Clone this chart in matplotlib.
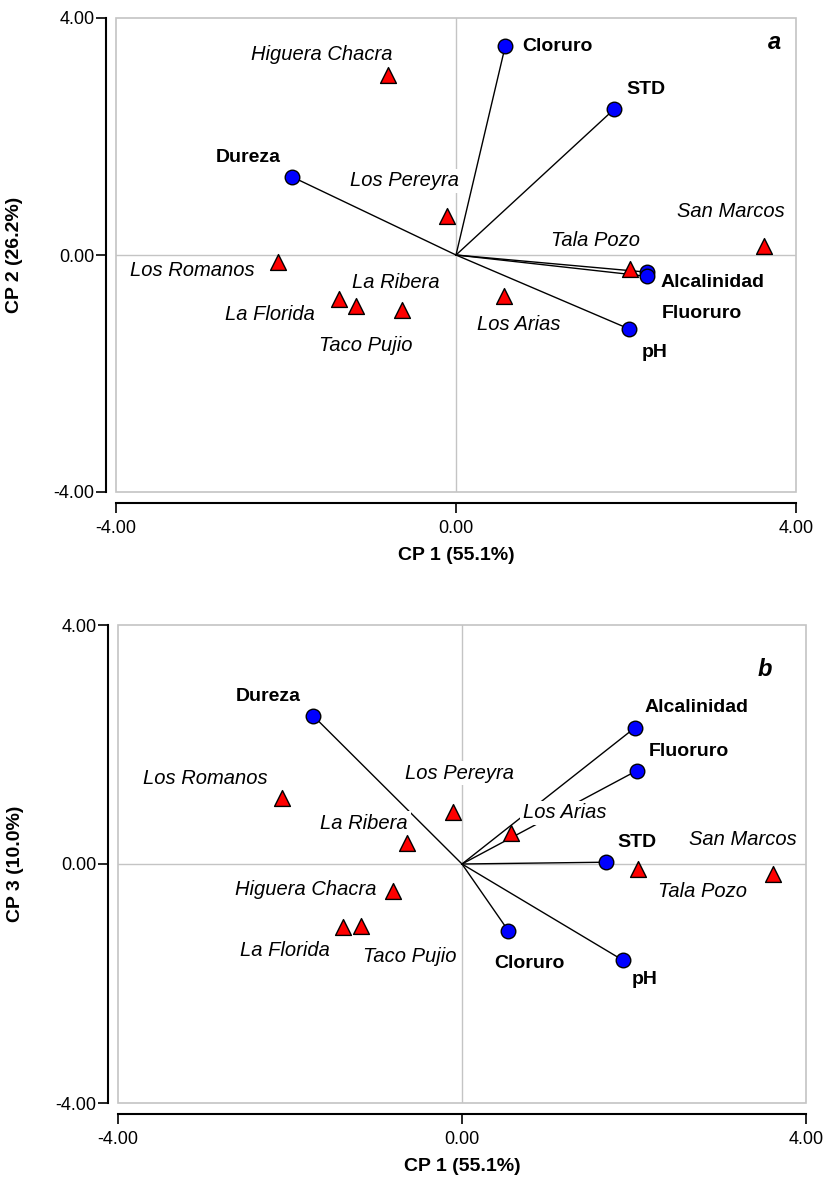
import numpy as np
import matplotlib
matplotlib.use('Agg')
import matplotlib.pyplot as plt
from matplotlib.patches import Rectangle

plt.rcParams['font.family'] = ['Liberation Sans', 'DejaVu Sans']

##### sitios (scores)
sites = ['Higuera Chacra', 'Los Pereyra', 'Los Romanos', 'La Florida', 'Taco Pujio',
         'La Ribera', 'Los Arias', 'Tala Pozo', 'San Marcos']
site_cp1 = np.array([-0.80, -0.11, -2.09, -1.38, -1.18, -0.64, 0.57, 2.05, 3.62])
site_cp2 = np.array([3.04, 0.66, -0.12, -0.74, -0.86, -0.93, -0.69, -0.24, 0.15])
site_cp3 = np.array([-0.45, 0.87, 1.10, -1.05, -1.04, 0.35, 0.52, -0.08, -0.17])

##### variables (loadings)
variables = ['Cloruro', 'STD', 'Dureza', 'Alcalinidad', 'Fluoruro', 'pH']
var_a_cp1 = np.array([0.58, 1.86, -1.93, 2.25, 2.25, 2.04])
var_a_cp2 = np.array([3.53, 2.46, 1.32, -0.29, -0.36, -1.25])
var_b_cp1 = np.array([0.54, 1.67, -1.73, 2.01, 2.03, 1.87])
var_b_cp3 = np.array([-1.12, 0.03, 2.48, 2.28, 1.56, -1.61])

#### label offsets (pixels)
site_off_a = [(-66, 20), (-42, 35), (-86, -8), (-69, -16), (10, -40), (-6, 28), (14, -29), (-35, 29), (-33, 35)]
var_off_a = [(52, -1), (32, 20), (-44, 19), (65, -10), (55, -37), (25, -23)]
site_off_b = [(-87, 1), (7, 39), (-77, 20), (-58, -24), (49, -30), (-43, 20), (54, 20), (64, -23), (-30, 35)]
var_off_b = [(21, -33), (31, 20), (-45, 19), (62, 20), (52, 19), (22, -19)]


def panel(ax, sx, sy, vx, vy, soff, voff, ylab, letter, letter_pos):
	ax.set_xlim(-4, 4)
	ax.set_ylim(-4, 4)
	ax.axhline(0, color='#c4c4c4', lw=1, zorder=1)
	ax.axvline(0, color='#c4c4c4', lw=1, zorder=1)
	ax.add_patch(Rectangle((0, 0), 1, 1, transform=ax.transAxes, fill=False,
	                       ec='#c4c4c4', lw=1.2, zorder=1, clip_on=False))
	for i in range(len(vx)):
		ax.plot([0, vx[i]], [0, vy[i]], color='black', lw=1, zorder=2)
	for i in range(len(sx)):
		ax.annotate(sites[i], (sx[i], sy[i]), xytext=soff[i], textcoords='offset pixels',
		            ha='center', va='center', fontsize=14.5, style='italic', zorder=3,
		            bbox=dict(facecolor='white', edgecolor='none', pad=2))
	for i in range(len(vx)):
		ax.annotate(variables[i], (vx[i], vy[i]), xytext=voff[i], textcoords='offset pixels',
		            ha='center', va='center', fontsize=14, fontweight='bold', zorder=3)
	ax.scatter(sx, sy, marker='^', s=130, c='#ff0000', edgecolors='black', linewidths=1, zorder=4)
	ax.scatter(vx, vy, marker='o', s=110, c='#0000ff', edgecolors='black', linewidths=1, zorder=4)

	for s in ['top', 'right']:
		ax.spines[s].set_visible(False)
	ax.spines['left'].set_position(('outward', 7.5))
	ax.spines['bottom'].set_position(('outward', 8))
	ax.spines['left'].set_linewidth(1.5)
	ax.spines['bottom'].set_linewidth(1.5)
	ax.set_xticks([-4, 0, 4])
	ax.set_yticks([-4, 0, 4])
	ax.set_xticklabels(['%.2f' % t for t in [-4, 0, 4]])
	ax.set_yticklabels(['%.2f' % t for t in [-4, 0, 4]])
	ax.tick_params(axis='both', direction='out', length=7, width=1.2, labelsize=13)
	ax.tick_params(axis='y', pad=1)
	ax.tick_params(axis='x', pad=5)
	ax.set_xlabel('CP 1 (55.1%)', fontsize=14, fontweight='bold')
	ax.set_ylabel(ylab, fontsize=14, fontweight='bold')
	ax.xaxis.set_label_coords(0.5, -0.115)
	ax.yaxis.set_label_coords(-0.137, 0.5)
	ax.text(letter_pos[0], letter_pos[1], letter, transform=ax.transAxes, ha='center', va='center',
	        fontsize=17, fontweight='bold', style='italic')


fig = plt.figure(figsize=(8.29, 11.78), dpi=100)
ax1 = fig.add_axes([116/829, 1-492/1178, 680/829, 474/1178])
ax2 = fig.add_axes([118/829, 1-1103/1178, 688/829, 478/1178])

panel(ax1, site_cp1, site_cp2, var_a_cp1, var_a_cp2, site_off_a, var_off_a,
      'CP 2 (26.2%)', 'a', (0.969, 0.949))
panel(ax2, site_cp1, site_cp3, var_b_cp1, var_b_cp3, site_off_b, var_off_b,
      'CP 3 (10.0%)', 'b', (0.940, 0.906))

plt.savefig('out.png', dpi=100)
